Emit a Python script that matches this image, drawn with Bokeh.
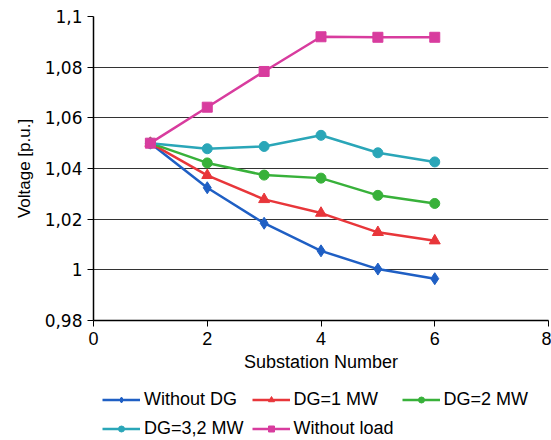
from bokeh.plotting import figure
from bokeh.layouts import column
from bokeh.models import FixedTicker, Legend, LegendItem, Range1d
from bokeh.embed import file_html
from bokeh.resources import INLINE

substation = [1, 2, 3, 4, 5, 6]
without_dg = [1.050, 1.0324, 1.0184, 1.0075, 1.0003, 0.9965]
dg_1mw = [1.050, 1.0373, 1.0278, 1.0224, 1.0148, 1.0115]
dg_2mw = [1.050, 1.0422, 1.0374, 1.0362, 1.0294, 1.0262]
dg_32mw = [1.050, 1.0478, 1.0487, 1.0531, 1.0462, 1.0426]
without_load = [1.050, 1.0642, 1.0783, 1.0920, 1.0918, 1.0918]

y_ticks = [0.98, 1.0, 1.02, 1.04, 1.06, 1.08, 1.1]
y_labels = ["0,98", "1", "1,02", "1,04", "1,06", "1,08", "1,1"]
x_ticks = [0, 2, 4, 6, 8]

series = [
    ("Without DG", without_dg, "#1f5fc4", "diamond", 12),
    ("DG=1 MW", dg_1mw, "#e8363a", "triangle", 11),
    ("DG=2 MW", dg_2mw, "#38b13a", "circle", 10),
    ("DG=3,2 MW", dg_32mw, "#2aa6b8", "circle", 10),
    ("Without load", without_load, "#d83c9e", "square", 10),
]

FONT = "Liberation Sans"
YFONT = "DejaVu Sans"

p = figure(width=551, height=380, output_backend="svg", toolbar_location=None,
           x_range=Range1d(0, 8), y_range=Range1d(0.98, 1.1),
           min_border_left=93, min_border_top=16, min_border_right=3,
           min_border_bottom=60)
p.background_fill_color = "white"
p.border_fill_color = "white"
p.outline_line_color = None

p.xgrid.grid_line_color = None
p.ygrid.grid_line_color = "#333333"
p.ygrid.grid_line_width = 1

p.xaxis.ticker = FixedTicker(ticks=x_ticks)
p.yaxis.ticker = FixedTicker(ticks=y_ticks)
p.yaxis.major_label_overrides = {t: l for t, l in zip(y_ticks, y_labels)}
for ax in (p.xaxis, p.yaxis):
    ax.axis_line_color = "black"
    ax.axis_line_width = 1.5
    ax.major_tick_line_color = "black"
    ax.minor_tick_line_color = None
    ax.major_tick_in = 0
    ax.major_tick_out = 6
    ax.major_label_text_color = "black"
    ax.axis_label_text_font_style = "normal"
    ax.axis_label_text_color = "black"
p.xaxis.major_label_text_font = FONT
p.xaxis.major_label_text_font_size = "18px"
p.yaxis.major_label_text_font = YFONT
p.yaxis.major_label_text_font_size = "17px"
p.xaxis.axis_label_text_font = FONT
p.xaxis.axis_label_text_font_size = "18px"
p.yaxis.axis_label_text_font = FONT
p.yaxis.axis_label_text_font_size = "17px"
p.xaxis.axis_label = "Substation Number"
p.yaxis.axis_label = "Voltage [p.u.]"
p.xaxis.axis_label_standoff = 4
p.yaxis.axis_label_standoff = 8

# legend panel: a separate blank figure carrying legend-only renderers
lg = figure(width=551, height=60, output_backend="svg", toolbar_location=None,
            x_range=Range1d(0, 1), y_range=Range1d(0, 1),
            min_border=0, min_border_left=0, min_border_right=0,
            min_border_top=0, min_border_bottom=0)
lg.axis.visible = False
lg.grid.visible = False
lg.outline_line_color = None
lg.background_fill_color = "white"
lg.border_fill_color = "white"

items = []
for name, vals, color, marker, size in series:
    p.line(substation, vals, line_color=color, line_width=2.5)
    p.scatter(substation, vals, marker=marker, size=size,
              fill_color=color, line_color=color)
    # off-canvas stand-ins so that the legend can draw each glyph
    ln = lg.line([-10, -9], [-10, -10], line_color=color, line_width=2.5)
    sc = lg.scatter([-10], [-10], marker=marker, size=size * 0.75,
                    fill_color=color, line_color=color)
    items.append(LegendItem(label=name, renderers=[ln, sc], index=0))

legend = Legend(items=items, orientation="horizontal", ncols=3,
                label_text_font=FONT, label_text_font_size="18px",
                label_text_color="black", glyph_width=38, glyph_height=15,
                label_height=15, spacing=8, padding=0, margin=0,
                border_line_color=None, background_fill_alpha=0,
                label_standoff=4, location=(9, 1))
lg.add_layout(legend, "center")

open("out.html", "w").write(file_html(column(p, lg, spacing=0), INLINE))
